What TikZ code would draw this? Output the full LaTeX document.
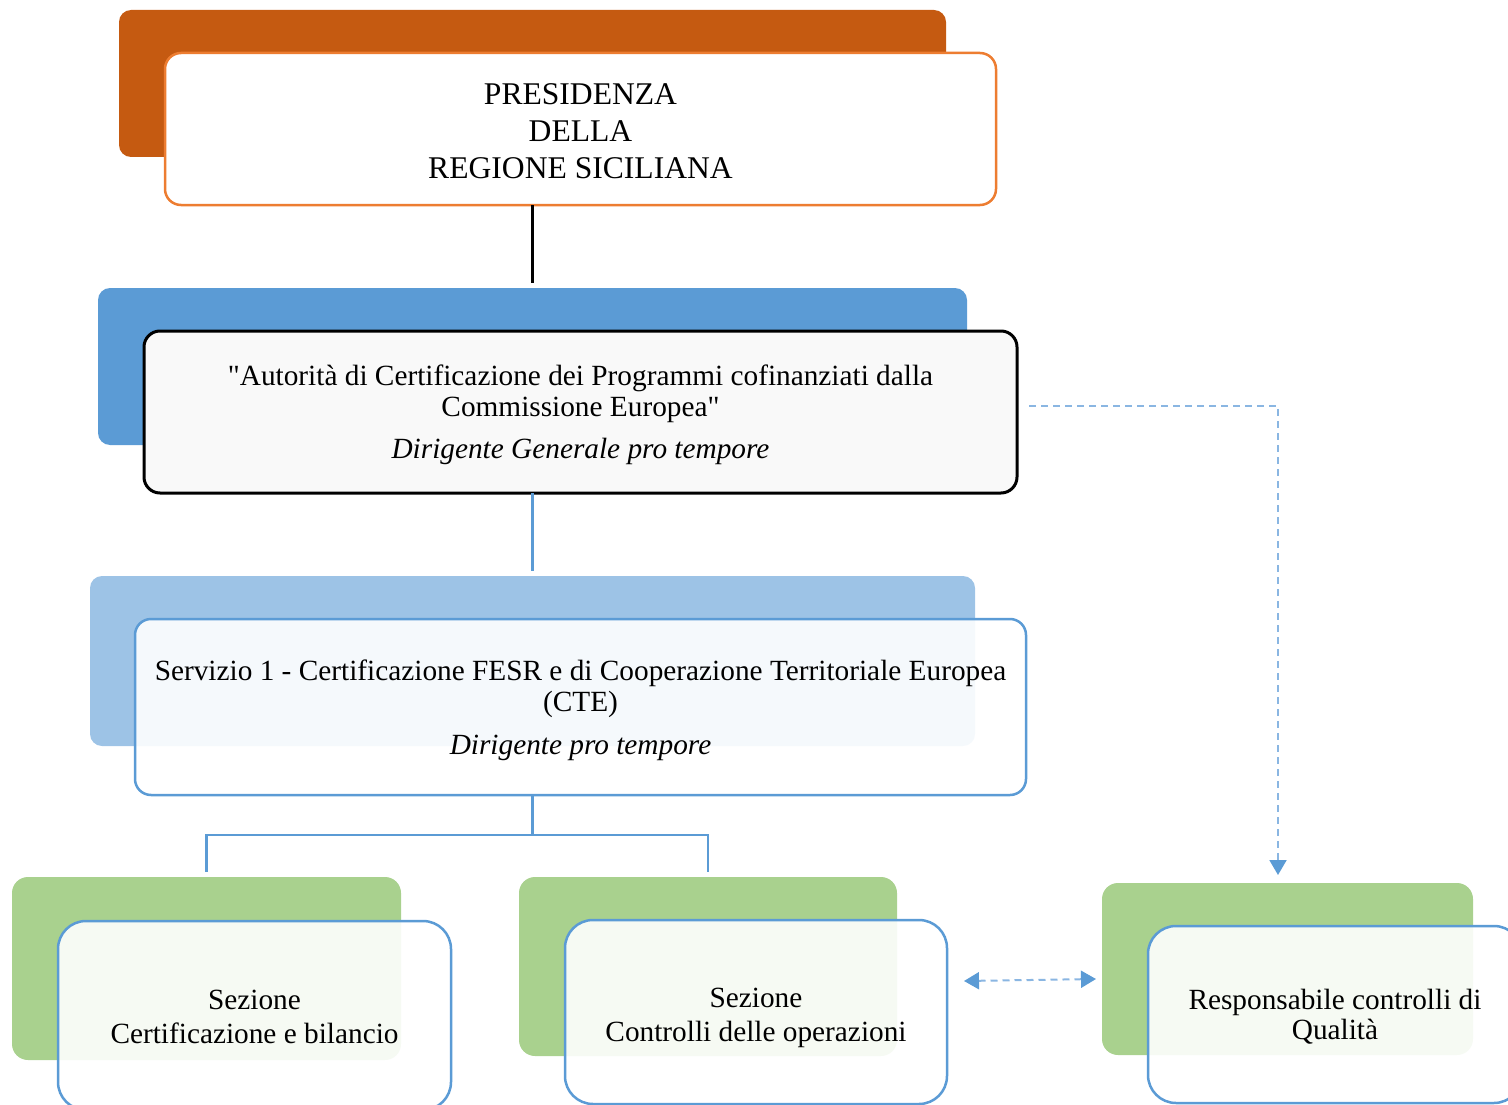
\documentclass[tikz,border=0pt]{standalone}
\usepackage{fontspec}
\setmainfont{Liberation Serif}[Ligatures=TeXOff]
\usetikzlibrary{arrows.meta}
\definecolor{orgdark}{HTML}{C55A11}
\definecolor{orgline}{HTML}{ED7D31}
\definecolor{bluemid}{HTML}{5B9BD5}
\definecolor{bluelight}{HTML}{9DC3E6}
\definecolor{greenback}{HTML}{A9D18E}
\definecolor{greyfill}{HTML}{F9F9F9}
\definecolor{dashblue}{HTML}{8AB6E2}
\begin{document}
\begin{tikzpicture}[x=1pt,y=-1pt,
  backbox/.style={rounded corners=12pt, inner sep=0pt, outer sep=0pt, draw=none},
  frontbox/.style={rounded corners=16pt, inner sep=0pt, outer sep=0pt},
  bluefront/.style={frontbox, draw=bluemid, line width=2.5pt, fill=white, fill opacity=0.9},
  boxtext/.style={inner sep=0pt, align=center, font=\fontsize{29.3}{31}\selectfont},
  treeline/.style={draw=bluemid, line width=2.5pt},
  dashlink/.style={draw=dashblue, line width=2pt, dash pattern=on 7pt off 5pt},
  bigtip/.tip={Triangle[width=17pt,length=15pt,color=bluemid]}
]
\useasboundingbox (0,0) rectangle (1508,1105);
\clip (0,0) rectangle (1508,1105);

% back boxes
\node[backbox, fill=orgdark, minimum width=827, minimum height=147] (pb) at (532.5,83.5) {};
\node[backbox, fill=bluemid, minimum width=869, minimum height=157] (ab) at (532.5,366.5) {};
\node[backbox, fill=bluelight, minimum width=885, minimum height=170] (sb) at (532.5,661) {};
\node[backbox, rounded corners=16pt, fill=greenback, minimum width=389, minimum height=183] (s1b) at (206.5,968.5) {};
\node[backbox, rounded corners=16pt, fill=greenback, minimum width=378, minimum height=179] (s2b) at (708,966.5) {};
\node[backbox, rounded corners=16pt, fill=greenback, minimum width=371, minimum height=172] (rb) at (1287.5,969) {};

% front boxes
\node[frontbox, draw=orgline, line width=2.5pt, fill=white, minimum width=831, minimum height=152] (pf) at (580.5,129) {};
\node[frontbox, draw=black, line width=3pt, fill=greyfill, minimum width=873, minimum height=162] (af) at (580.5,412) {};
\node[bluefront, minimum width=891, minimum height=176] (sf) at (580.5,707) {};
\node[bluefront, rounded corners=28pt, minimum width=393, minimum height=189] (s1f) at (254.5,1015.5) {};
\node[bluefront, rounded corners=28pt, minimum width=382, minimum height=184] (s2f) at (756,1012) {};
\node[bluefront, rounded corners=28pt, minimum width=374, minimum height=177] (rf) at (1335,1014.5) {};

% texts
\node[boxtext, font=\fontsize{31.6}{37}\selectfont] (pft) at ([yshift=-2pt]pf.center)
  {PRESIDENZA\\DELLA\\REGIONE SICILIANA};
\node[boxtext] (aft) at ([yshift=-3pt]af.center)
  {"Autorità di Certificazione dei Programmi cofinanziati dalla\\Commissione Europea"\\[11pt]\textit{Dirigente Generale pro tempore}};
\node[boxtext] (sft) at ([yshift=-3pt]sf.center)
  {Servizio 1 - Certificazione FESR e di Cooperazione Territoriale Europea\\(CTE)\\[12pt]\textit{Dirigente pro tempore}};
\node[boxtext, font=\fontsize{29.3}{34}\selectfont] (s1ft) at ([yshift=-1pt]s1f.center)
  {Sezione\\Certificazione e bilancio};
\node[boxtext, font=\fontsize{29.3}{34}\selectfont] (s2ft) at ([yshift=-6pt]s2f.center)
  {Sezione\\Controlli delle operazioni};
\node[boxtext, font=\fontsize{29.3}{30}\selectfont] (rft) at ([yshift=-2pt]rf.center)
  {Responsabile controlli di\\Qualità};

% connectors
\draw[black, line width=2.5pt] (pf.south -| ab.north) -- ([yshift=5pt]ab.north);
\draw[treeline] (af.south -| sb.north) -- ([yshift=5pt]sb.north);
\coordinate (fork) at ([yshift=-40pt]sf.south -| sb.north);
\draw[treeline] (sf.south -| sb.north) -- (fork);
\draw[treeline] (fork) -| ([yshift=5pt]s1b.north);
\draw[treeline] (fork) -| ([yshift=5pt]s2b.north);

\coordinate (qstart) at ([xshift=12pt,yshift=6pt]af.east);
\coordinate (qend) at ([xshift=-9.5pt,yshift=8pt]rb.north);
\draw[dashlink, -bigtip] (qstart) -| (qend);

\coordinate (dl) at (964,981);
\coordinate (dr) at (1096,979);
\draw[dashlink, bigtip-bigtip] (dl) -- (dr);
\end{tikzpicture}
\end{document}
